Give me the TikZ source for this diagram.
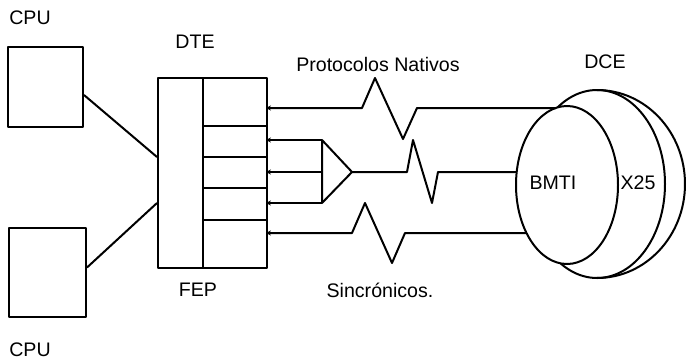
\documentclass[tikz,border=0pt]{standalone}
\usepackage{fontspec}
\setmainfont{Liberation Sans}
\usetikzlibrary{arrows.meta,calc,shapes.geometric}

\begin{document}
\begin{tikzpicture}[x=.5pt,y=-.5pt,line width=1pt,line join=round,
    cpu/.style={draw,inner sep=0pt,minimum width=37.5pt,minimum height=40pt},
    txt/.style={font=\fontsize{9.8}{12}\selectfont,inner sep=0pt},
    port/.style={-{Stealth[length=2.5pt,width=2.6pt]}}]
        \useasboundingbox(0,0)rectangle(686,360);
        \node[cpu](cpua)at(45.5,87){};
        \node[cpu,minimum width=38.5pt,minimum height=44.5pt](cpub)at(47.5,272.5){};
        \node[txt](cpuatxt)at(30,18){CPU};
        \node[txt](cpubtxt)at(30,350){CPU};
        \node[draw,inner sep=0pt,minimum width=54.5pt,minimum height=95pt](fep)at(212.5,173){};
        \node[txt](dte)at(195,42){DTE};
        \node[txt](feptxt)at(198,290){FEP};
        \coordinate(div)at(203,78);
        \draw(div)--(div|-fep.south);
        \foreach \y in {126,157,188,220}\draw(203,\y)--(267,\y);
        \foreach \y[count=\i] in {108,140,172,203,233}\coordinate(p\i)at(266,\y);
        \draw($(cpua.east)+(0,8)$)--($(fep.west)+(0,-16)$);
        \draw($(cpub.east)+(0,-5)$)--($(fep.west)+(0,30)$);
        \draw(597,184)ellipse[x radius=34pt,y radius=47pt];
        \draw(597,90)arc[start angle=90,end angle=-90,x radius=44pt,y radius=47pt];
        \node[draw,fill=white,ellipse,inner sep=0pt,minimum width=51pt,minimum height=79pt](bmti)at(567,185){};
        \node[txt](bmtitxt)at(553,183){BMTI};
        \node[txt](xtxt)at(638,183){X25};
        \node[txt](dce)at(605,62){DCE};
        \node[txt](proto)at(378,64){Protocolos Nativos};
        \node[txt](sinc)at(380,290){Sincrónicos.};
        \coordinate(tip)at(352,172);
        \coordinate(t3)at(322,172);
        \draw(322,140)coordinate(t2)--(tip)--(322,203)coordinate(t4)--cycle;
        \foreach \i in {2,3,4}\draw[port](t\i)--(p\i);
        \draw[port](bmti.98|-p1)--(417,108)--(403,139)--(375,78)--(362,108)--(p1);
        \draw(bmti.165|-tip)--(438,172)--(432,203)--(413,140)--(407,172)--(tip);
        \draw[port](bmti.231|-p5)--(405,233)--(392,263)--(365,203)--(352,233)--(p5);
      \end{tikzpicture}
\end{document}
